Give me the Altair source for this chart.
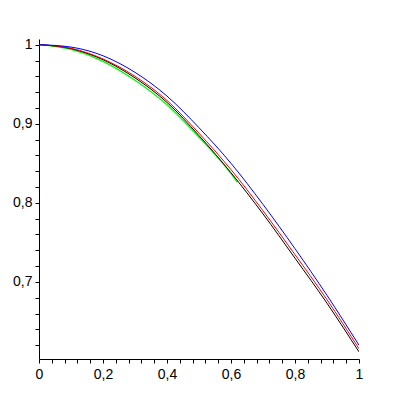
import altair as alt
import pandas as pd

X = [0.0, 0.1, 0.2, 0.3, 0.4, 0.5, 0.6, 0.7, 0.8, 0.9, 1.0]
BLACK = [1.000, 0.995, 0.981, 0.958, 0.927, 0.885, 0.838, 0.786, 0.730, 0.673, 0.6115]
RED = [1.000, 0.9955, 0.982, 0.960, 0.9295, 0.888, 0.842, 0.790, 0.7345, 0.6775, 0.6155]
BLUE = [1.000, 0.997, 0.986, 0.965, 0.935, 0.895, 0.850, 0.798, 0.742, 0.683, 0.620]
GREEN_X = [0.0, 0.1, 0.2, 0.3, 0.4, 0.5, 0.6, 0.62]
GREEN = [1.000, 0.994, 0.979, 0.955, 0.924, 0.883, 0.837, 0.826]

X_TICKS = [0.0, 0.04, 0.08, 0.12, 0.16, 0.2, 0.24, 0.28, 0.32, 0.36, 0.4, 0.44, 0.48,
           0.52, 0.56, 0.6, 0.64, 0.68, 0.72, 0.76, 0.8, 0.84, 0.88, 0.92, 0.96, 1.0]
Y_TICKS = [0.62, 0.64, 0.66, 0.68, 0.7, 0.72, 0.74, 0.76, 0.78, 0.8, 0.82, 0.84, 0.86,
           0.88, 0.9, 0.92, 0.94, 0.96, 0.98, 1.0]

X_DOMAIN = [0.0, 1.0]
Y_DOMAIN = [0.6025, 1.0072]

def frame(xs, ys):
    return pd.DataFrame({"x": xs, "y": ys})

x_enc = alt.X("x:Q", scale=alt.Scale(domain=X_DOMAIN, nice=False, zero=False),
              axis=alt.Axis(values=X_TICKS, title=None, grid=False,
                            labelExpr="abs(datum.value*5 - round(datum.value*5)) < 0.001 ? replace(format(datum.value, '~g'), '.', ',') : ''",
                            domainColor="black", tickColor="black", tickSize=4,
                            labelColor="black", labelFont="Liberation Sans", labelFontSize=14,
                            labelPadding=4, labelFlush=False, labelOverlap=False))
y_enc = alt.Y("y:Q", scale=alt.Scale(domain=Y_DOMAIN, nice=False, zero=False),
              axis=alt.Axis(values=Y_TICKS, title=None, grid=False,
                            labelExpr="abs(datum.value*10 - round(datum.value*10)) < 0.001 ? replace(format(datum.value, '~g'), '.', ',') : ''",
                            domainColor="black", tickColor="black", tickSize=4,
                            labelColor="black", labelFont="Liberation Sans", labelFontSize=14,
                            labelPadding=3, labelFlush=False, labelOverlap=False))

def line(xs, ys, color, width=1.0):
    return alt.Chart(frame(xs, ys)).mark_line(color=color, strokeWidth=width,
                                               interpolate="monotone", clip=True).encode(x=x_enc, y=y_enc)

chart = alt.layer(
    line(GREEN_X, GREEN, "#00ff00", 1.3),
    line(X, BLACK, "#000000"),
    line(X, RED, "#ff0000"),
    line(X, BLUE, "#0000ff"),
).properties(
    width=320, height=320,
    autosize=alt.AutoSizeParams(type="none"),
    padding={"left": 31, "top": 31, "right": 33, "bottom": 33},
    background="white",
).configure_view(strokeWidth=0, stroke=None)

chart.save("out.html", embed_options={"renderer": "svg", "actions": False})
